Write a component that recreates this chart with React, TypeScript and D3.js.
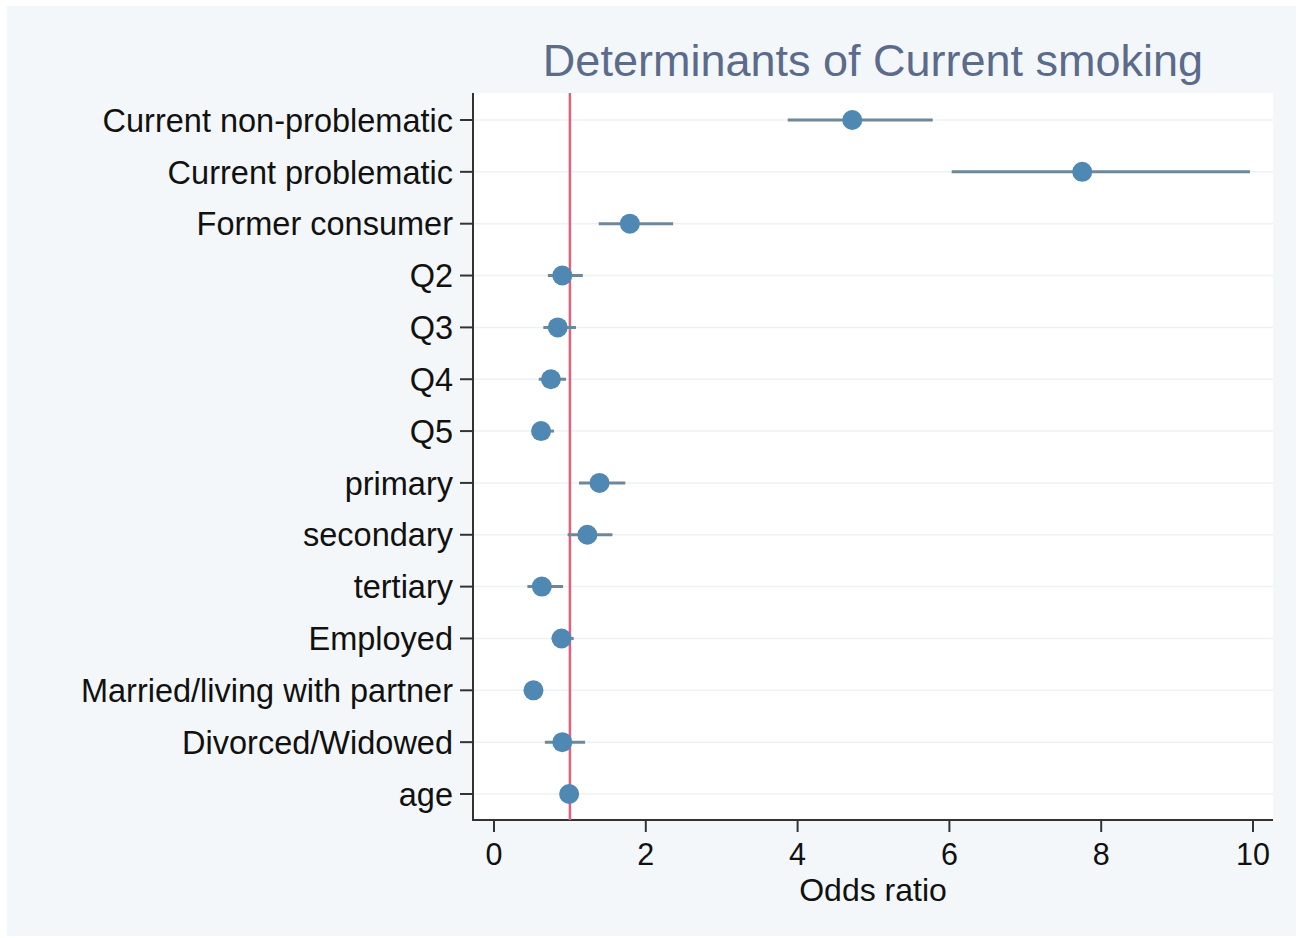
import * as d3 from "d3";
import { useRef, useEffect } from "react";

// rows, top to bottom
const labels = [
  "Current non-problematic",
  "Current problematic",
  "Former consumer",
  "Q2",
  "Q3",
  "Q4",
  "Q5",
  "primary",
  "secondary",
  "tertiary",
  "Employed",
  "Married/living with partner",
  "Divorced/Widowed",
  "age",
];
const oddsRatio = [4.72, 7.75, 1.79, 0.9, 0.84, 0.75, 0.62, 1.39, 1.23, 0.63, 0.89, 0.52, 0.9, 0.99];
const ciLow = [3.87, 6.03, 1.38, 0.71, 0.65, 0.59, 0.51, 1.12, 0.97, 0.44, 0.76, 0.45, 0.67, 0.98];
const ciHigh = [5.78, 9.96, 2.36, 1.17, 1.08, 0.95, 0.79, 1.73, 1.56, 0.91, 1.05, 0.58, 1.2, 1.01];
const xTicks = [0, 2, 4, 6, 8, 10];

const W = 1302;
const H = 938;
const FONT = "'Liberation Sans', Arial, Helvetica, sans-serif";

const margin = { top: 93, right: 29, bottom: 118, left: 473 };

const App = () => {
  const ref = useRef<SVGSVGElement>(null);

  useEffect(() => {
    const svg = d3.select(ref.current);
    svg.selectAll("*").remove();

    const x0 = margin.left;
    const x1 = W - margin.right;
    const y0 = margin.top;
    const y1 = H - margin.bottom;

    const x = d3.scaleLinear().domain([0, 10]).range([494, 1253]);
    const y = d3
      .scalePoint<string>()
      .domain(labels)
      .range([120, 794]);

    // outer background
    svg.append("rect")
      .attr("x", 7).attr("y", 6)
      .attr("width", W - 13).attr("height", H - 8)
      .attr("fill", "#f4f7f9");

    // plot region
    svg.append("rect")
      .attr("x", x0).attr("y", y0)
      .attr("width", x1 - x0).attr("height", y1 - y0)
      .attr("fill", "#ffffff");

    // faint gridlines
    svg.append("g")
      .selectAll("line")
      .data(labels)
      .enter()
      .append("line")
      .attr("x1", x0).attr("x2", x1)
      .attr("y1", d => y(d)!).attr("y2", d => y(d)!)
      .attr("stroke", "#eef1f4")
      .attr("stroke-width", 1.5);

    // title
    svg.append("text")
      .attr("x", 873).attr("y", 76)
      .attr("text-anchor", "middle")
      .attr("font-family", FONT)
      .attr("font-size", 45)
      .attr("fill", "#5b6b8c")
      .text("Determinants of Current smoking");

    // y axis
    const yAxis = svg.append("g");
    yAxis.append("line")
      .attr("x1", x0).attr("x2", x0)
      .attr("y1", y0).attr("y2", y1 + 1)
      .attr("stroke", "#333").attr("stroke-width", 2);
    const yt = yAxis.selectAll("g.tick")
      .data(labels)
      .enter()
      .append("g")
      .attr("transform", d => `translate(0, ${y(d)})`);
    yt.append("line")
      .attr("x1", x0 - 13).attr("x2", x0)
      .attr("stroke", "#333").attr("stroke-width", 2);
    yt.append("text")
      .attr("x", x0 - 20)
      .attr("dy", "0.36em")
      .attr("text-anchor", "end")
      .attr("font-family", FONT)
      .attr("font-size", 32.5)
      .attr("fill", "#111")
      .text(d => d);

    // x axis
    const xAxis = svg.append("g");
    xAxis.append("line")
      .attr("x1", x0 - 1).attr("x2", x1)
      .attr("y1", y1).attr("y2", y1)
      .attr("stroke", "#333").attr("stroke-width", 2);
    const xt = xAxis.selectAll("g.tick")
      .data(xTicks)
      .enter()
      .append("g")
      .attr("transform", d => `translate(${x(d)}, 0)`);
    xt.append("line")
      .attr("y1", y1).attr("y2", y1 + 12)
      .attr("stroke", "#333").attr("stroke-width", 2);
    xt.append("text")
      .attr("y", 865)
      .attr("text-anchor", "middle")
      .attr("font-family", FONT)
      .attr("font-size", 30.5)
      .attr("fill", "#111")
      .text(d => d);
    svg.append("text")
      .attr("x", 873).attr("y", 901)
      .attr("text-anchor", "middle")
      .attr("font-family", FONT)
      .attr("font-size", 32)
      .attr("fill", "#111")
      .text("Odds ratio");

    // reference line at OR = 1
    svg.append("line")
      .attr("x1", x(1)).attr("x2", x(1))
      .attr("y1", y0).attr("y2", y1)
      .attr("stroke", "#e0607e").attr("stroke-width", 2.5);

    // confidence intervals
    svg.append("g")
      .selectAll("line")
      .data(labels)
      .enter()
      .append("line")
      .attr("x1", (d, i) => x(ciLow[i]))
      .attr("x2", (d, i) => x(ciHigh[i]))
      .attr("y1", d => y(d)!).attr("y2", d => y(d)!)
      .attr("stroke", "#6e8799")
      .attr("stroke-width", 3);

    // point estimates
    svg.append("g")
      .selectAll("circle")
      .data(labels)
      .enter()
      .append("circle")
      .attr("cx", (d, i) => x(oddsRatio[i]))
      .attr("cy", d => y(d)!)
      .attr("r", 10)
      .attr("fill", "#4f88b2");
  }, []);

  return (
    <svg
      ref={ref}
      width={W}
      height={H}
      style={{ position: "absolute", left: 0, top: 0, background: "#fff" }}
    />
  );
};

export default App;
